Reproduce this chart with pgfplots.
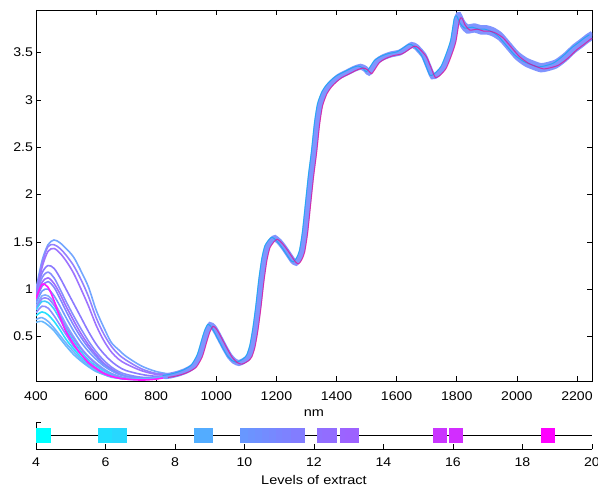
\documentclass[border=0pt]{standalone}
\usepackage{pgfplots}
\usepackage{pgfplotstable}
\pgfplotsset{compat=1.18}
\usepackage{fontspec}
\setmainfont{Liberation Sans}

% spectra below 850 nm, one column per sample
\pgfplotstableread{
nm  A    B    C    D    E    F    O    H    I    P    J    K    L    M    N    G
400 1.00 0.95 0.93 0.95 0.92 0.90 0.88 0.85 0.82 0.80 0.78 0.75 0.72 0.68 0.65 0.90
420 1.30 1.27 1.23 1.17 1.12 1.07 1.03 0.98 0.93 0.90 0.87 0.82 0.76 0.70 0.66 1.05
440 1.47 1.45 1.40 1.25 1.18 1.12 1.08 1.00 0.93 0.90 0.86 0.80 0.73 0.66 0.62 1.02
460 1.52 1.47 1.43 1.22 1.12 1.06 1.02 0.93 0.86 0.83 0.79 0.72 0.66 0.59 0.56 0.88
480 1.49 1.43 1.38 1.12 1.00 0.95 0.90 0.82 0.75 0.72 0.68 0.62 0.57 0.51 0.48 0.70
500 1.43 1.36 1.30 1.00 0.87 0.82 0.77 0.70 0.63 0.60 0.57 0.52 0.47 0.43 0.40 0.55
525 1.34 1.25 1.17 0.85 0.72 0.67 0.62 0.56 0.50 0.48 0.45 0.40 0.37 0.34 0.31 0.42
550 1.19 1.10 1.00 0.70 0.58 0.53 0.49 0.44 0.38 0.37 0.34 0.31 0.28 0.26 0.24 0.31
575 1.02 0.92 0.82 0.55 0.45 0.41 0.38 0.34 0.29 0.28 0.25 0.23 0.21 0.19 0.18 0.22
600 0.78 0.70 0.62 0.42 0.34 0.31 0.29 0.26 0.22 0.21 0.19 0.17 0.15 0.14 0.13 0.16
625 0.60 0.53 0.46 0.32 0.25 0.22 0.21 0.19 0.16 0.15 0.14 0.12 0.11 0.10 0.10 0.11
650 0.44 0.40 0.34 0.24 0.18 0.16 0.15 0.14 0.11 0.11 0.10 0.09 0.08 0.08 0.07 0.08
675 0.36 0.31 0.26 0.18 0.13 0.11 0.11 0.10 0.08 0.08 0.07 0.07 0.06 0.06 0.06 0.06
700 0.29 0.25 0.21 0.14 0.10 0.08 0.08 0.08 0.06 0.06 0.05 0.05 0.05 0.05 0.05 0.05
750 0.19 0.16 0.14 0.10 0.07 0.06 0.06 0.06 0.05 0.05 0.05 0.05 0.05 0.05 0.05 0.04
800 0.13 0.11 0.10 0.08 0.07 0.06 0.06 0.06 0.06 0.06 0.06 0.06 0.06 0.06 0.06 0.05
850 0.10 0.10 0.09 0.09 0.09 0.09 0.09 0.09 0.09 0.09 0.09 0.09 0.09 0.09 0.09 0.08
}\heads

% common part of all spectra
\pgfplotstableread{
nm   v
830  0.08
850  0.09
875  0.11
900  0.14
925  0.19
945  0.30
960  0.46
970  0.56
980  0.62
990  0.60
1000 0.55
1015 0.46
1030 0.37
1045 0.29
1060 0.24
1075 0.22
1090 0.24
1100 0.26
1110 0.30
1120 0.40
1130 0.58
1140 0.82
1150 1.10
1160 1.32
1170 1.45
1185 1.52
1195 1.54
1210 1.50
1225 1.44
1240 1.37
1255 1.30
1265 1.28
1275 1.32
1285 1.40
1295 1.60
1305 1.90
1315 2.20
1325 2.45
1335 2.75
1345 2.95
1360 3.08
1375 3.15
1390 3.20
1410 3.25
1435 3.29
1460 3.33
1480 3.35
1495 3.33
1508 3.29
1520 3.34
1535 3.41
1555 3.45
1580 3.48
1610 3.50
1630 3.54
1650 3.58
1665 3.56
1690 3.47
1705 3.36
1720 3.25
1735 3.27
1755 3.34
1770 3.45
1788 3.62
1800 3.85
1808 3.88
1820 3.80
1835 3.75
1860 3.76
1880 3.74
1900 3.74
1920 3.72
1945 3.67
1970 3.58
2000 3.47
2030 3.40
2060 3.36
2080 3.34
2100 3.35
2130 3.38
2160 3.45
2190 3.54
2215 3.60
2235 3.65
2250 3.68
}\tail

\definecolor{bandc}{rgb}{0.50,0.58,1}

\pgfplotsset{
  matstyle/.style={
    scale only axis, width=556pt,
    tick align=inside, major tick length=5pt,
    axis line style={line width=0.8pt},
    tick style={black, line width=0.6pt},
    /pgf/number format/assume math mode=true,
    /pgf/number format/1000 sep={},
    tick label style={font=\fontsize{12.6}{14}\selectfont, xscale=1.12, inner sep=0pt},
    label style={font=\fontsize{12.6}{14}\selectfont, xscale=1.15, inner sep=0pt},
  },
  head/.style={no marks, smooth, tension=0.5, line width=1.6pt},
}

\begin{document}
\begin{tikzpicture}
\path[use as bounding box] (0,0) rectangle (598pt,488pt);

\begin{axis}[matstyle, at={(36pt,107pt)}, anchor=south west, height=371pt,
  xmin=400, xmax=2250, ymin=0.03, ymax=3.95,
  xtick={400,600,...,2200}, ytick={0.5,1,...,3.5},
  xticklabel style={anchor=center, yshift=-15pt},
  yticklabel style={anchor=east, xshift=-2.5pt},
  xlabel={nm}, xlabel style={at={(axis description cs:0.5,-0.086)}, anchor=center}]
\addplot[head, color={rgb,1:red,0.45;green,0.65;blue,1}] table[x=nm,y=A]{\heads};
\addplot[head, color={rgb,1:red,0.58;green,0.50;blue,1}] table[x=nm,y=B]{\heads};
\addplot[head, color={rgb,1:red,0.62;green,0.45;blue,1}] table[x=nm,y=C]{\heads};
\addplot[head, color={rgb,1:red,0.55;green,0.48;blue,1}] table[x=nm,y=D]{\heads};
\addplot[head, color={rgb,1:red,0.52;green,0.55;blue,1}] table[x=nm,y=E]{\heads};
\addplot[head, color={rgb,1:red,0.62;green,0.42;blue,1}] table[x=nm,y=F]{\heads};
\addplot[head, color={rgb,1:red,0.50;green,0.52;blue,1}] table[x=nm,y=O]{\heads};
\addplot[head, color={rgb,1:red,0.45;green,0.60;blue,1}] table[x=nm,y=H]{\heads};
\addplot[head, color={rgb,1:red,0.50;green,0.68;blue,1}] table[x=nm,y=I]{\heads};
\addplot[head, color={rgb,1:red,0.58;green,0.52;blue,1}] table[x=nm,y=P]{\heads};
\addplot[head, color={rgb,1:red,0.25;green,0.80;blue,1}] table[x=nm,y=J]{\heads};
\addplot[head, color={rgb,1:red,0.55;green,0.55;blue,1}] table[x=nm,y=K]{\heads};
\addplot[head, color={rgb,1:red,0.15;green,0.88;blue,1}] table[x=nm,y=L]{\heads};
\addplot[head, color={rgb,1:red,0.45;green,0.70;blue,1}] table[x=nm,y=M]{\heads};
\addplot[head, color={rgb,1:red,0.40;green,0.72;blue,1}] table[x=nm,y=N]{\heads};
\addplot[head, color={rgb,1:red,1;green,0.10;blue,1}] table[x=nm,y=G]{\heads};
% band of overlapping spectra
\addplot[no marks, smooth, tension=0.4, line width=6pt, bandc, line cap=round] table[x=nm,y=v]{\tail};
\addplot[no marks, smooth, tension=0.4, line width=4.5pt, bandc, yshift=2.4pt, restrict x to domain=1780:2250] table[x=nm,y=v]{\tail};
\addplot[no marks, smooth, tension=0.4, line width=4.5pt, bandc, yshift=-2.4pt, restrict x to domain=1780:2250] table[x=nm,y=v]{\tail};
\addplot[no marks, smooth, tension=0.4, line width=1pt, cyan, opacity=0.7, xshift=-2.6pt, yshift=0.8pt] table[x=nm,y=v]{\tail};
\addplot[no marks, smooth, tension=0.4, line width=1pt, magenta, opacity=0.7, xshift=2.6pt, yshift=-1.2pt] table[x=nm,y=v]{\tail};
\end{axis}

\begin{axis}[matstyle, at={(36pt,39pt)}, anchor=south west, height=27pt,
  xmin=4, xmax=20, ymin=0, ymax=2,
  axis x line*=bottom, axis y line*=left,
  xtick={4,6,...,20}, ytick={2}, yticklabels={},
  xticklabel style={anchor=center, yshift=-12.7pt},
  xlabel={Levels of extract}, xlabel style={at={(axis description cs:0.5,-1.15)}, anchor=center},
  colormap={coolmap}{rgb=(0,1,1) rgb=(1,0,1)},
  point meta min=4.22, point meta max=18.73, clip=false]
\addplot[black, line width=0.6pt] coordinates {(4,1) (20,1)};
\addplot[scatter, only marks, mark=square*, mark size=7.2pt, scatter src=x,
  mark options={draw opacity=0}] coordinates {
(4.22,1) (6.0,1) (6.4,1) (8.75,1) (8.9,1)
(10.07,1) (10.3,1) (10.5,1) (10.7,1) (10.9,1) (11.1,1) (11.3,1) (11.54,1)
(12.3,1) (12.45,1) (12.95,1) (13.1,1) (15.63,1) (16.08,1) (18.73,1)};
\end{axis}
\end{tikzpicture}
\end{document}
